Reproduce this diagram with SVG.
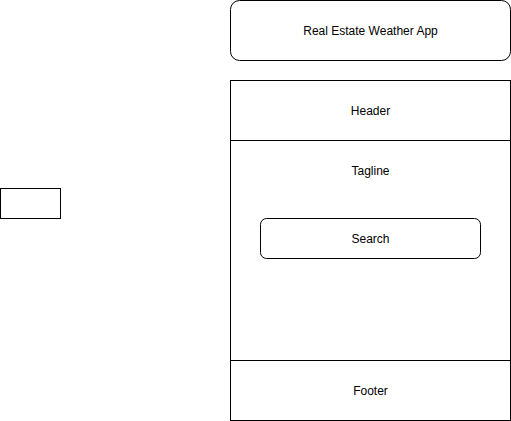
<svg xmlns="http://www.w3.org/2000/svg" width="511" height="421" viewBox="0 0 511 421">
<style>
.s{fill:#fff;stroke:#000;stroke-width:1}
.t{font-family:"Liberation Sans",Arial,sans-serif;font-size:12px;fill:#000;text-anchor:middle;dominant-baseline:central}
</style>
<rect width="511" height="421" fill="#fff"/>
<g id="title"><rect class="s" x="230.5" y="0.5" width="280" height="60" rx="9" ry="9"/><text class="t" x="370.5" y="30.5">Real Estate Weather App</text></g>
<g id="header"><rect class="s" x="230.5" y="80.5" width="280" height="60"/><text class="t" x="370.5" y="110.5">Header</text></g>
<g id="body"><rect class="s" x="230.5" y="140.5" width="280" height="220"/><text class="t" x="370.5" y="170.5">Tagline</text></g>
<g id="search"><rect class="s" x="260.5" y="218.5" width="220" height="40" rx="6" ry="6"/><text class="t" x="370.5" y="238.5">Search</text></g>
<g id="footer"><rect class="s" x="230.5" y="360.5" width="280" height="60"/><text class="t" x="370.5" y="390.5">Footer</text></g>
<g id="box"><rect class="s" x="0.5" y="188.5" width="60" height="30"/></g>
<g id="connectors"></g>
</svg>
